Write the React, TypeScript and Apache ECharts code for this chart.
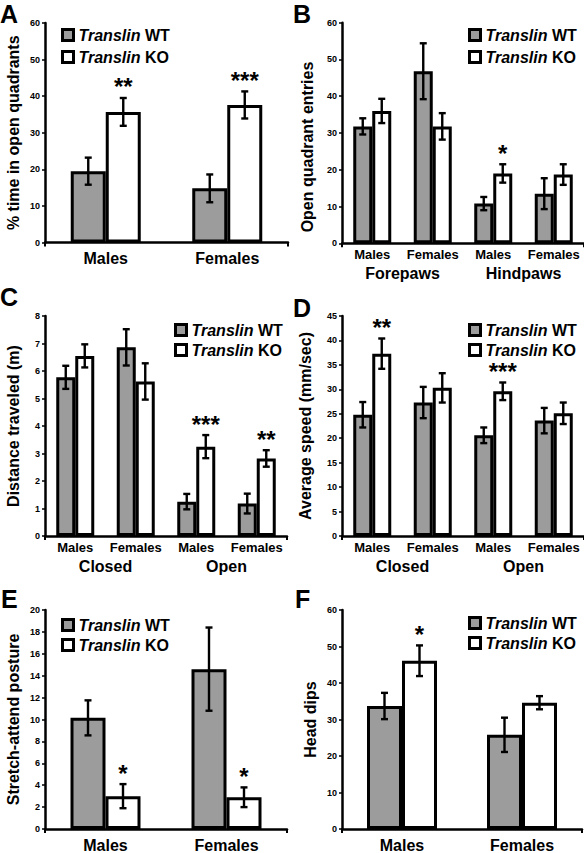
import React, { useEffect, useRef } from 'react';
import * as echarts from 'echarts';

const FONT = "'Liberation Sans', Arial, Helvetica, sans-serif";
const GRAY = '#9c9c9c';

// ---- categories ----
const catsTwo = ['Males', 'Females'];
const catsFour = ['Males', 'Females', 'Males', 'Females'];
const groupsB = ['Forepaws', 'Hindpaws'];
const groupsCD = ['Closed', 'Open'];

// ---- Panel A: % time in open quadrants ----
const wtA = [19.5, 14.8];
const wtAErr = [3.7, 3.8];
const koA = [35.7, 37.6];
const koAErr = [3.8, 3.7];
const starsA = ['**', '***'];

// ---- Panel B: open quadrant entries ----
const wtB = [31.8, 46.8, 10.8, 13.5];
const wtBErr = [2.2, 7.6, 1.8, 4.2];
const koB = [36.0, 31.8, 19.0, 18.7];
const koBErr = [3.3, 3.6, 2.5, 2.8];
const starsB = ['', '', '*', ''];

// ---- Panel C: distance traveled (m) ----
const wtC = [5.77, 6.86, 1.25, 1.18];
const wtCErr = [0.42, 0.66, 0.28, 0.36];
const koC = [6.55, 5.62, 3.25, 2.82];
const koCErr = [0.42, 0.66, 0.42, 0.3];
const starsC = ['', '', '***', '**'];

// ---- Panel D: average speed (mm/sec) ----
const wtD = [24.8, 27.3, 20.6, 23.6];
const wtDErr = [2.6, 3.2, 1.6, 2.6];
const koD = [37.3, 30.3, 29.6, 25.1];
const koDErr = [3.1, 3.0, 1.8, 2.2];
const starsD = ['**', '', '***', ''];

// ---- Panel E: stretch-attend posture ----
const wtE = [10.15, 14.6];
const wtEErr = [1.6, 3.8];
const koE = [3.0, 2.9];
const koEErr = [1.1, 0.9];
const starsE = ['*', '*'];

// ---- Panel F: head dips ----
const wtF = [33.7, 25.8];
const wtFErr = [3.6, 4.7];
const koF = [46.1, 34.6];
const koFErr = [4.2, 1.8];
const starsF = ['*', ''];

type Panel = {
  letter: string;
  letterPos: [number, number];
  cats: string[];
  groups?: string[];
  wt: number[];
  wtErr: number[];
  ko: number[];
  koErr: number[];
  stars: string[];
  yName: string;
  yMax: number;
  yInterval: number;
  nameGap: number;
  namePad?: number[];
  grid: { left: number; top: number; width: number; height: number };
  legend: { left: number; top: number; gap: number };
  barWidth: number;
};

const panels: Panel[] = [
  {
    letter: 'A', letterPos: [0, 13.5], cats: catsTwo,
    wt: wtA, wtErr: wtAErr, ko: koA, koErr: koAErr, stars: starsA,
    yName: '% time in open quadrants', yMax: 60, yInterval: 10, nameGap: 24,
    grid: { left: 45, top: 23, width: 243, height: 219.5 },
    legend: { left: 61, top: 27, gap: 6 }, barWidth: 35,
  },
  {
    letter: 'B', letterPos: [293, 13.5], cats: catsFour, groups: groupsB,
    wt: wtB, wtErr: wtBErr, ko: koB, koErr: koBErr, stars: starsB,
    yName: 'Open quadrant entries', yMax: 60, yInterval: 10, nameGap: 27, namePad: [0, 28, 0, 0],
    grid: { left: 342, top: 22.7, width: 242, height: 220.6 },
    legend: { left: 468, top: 27, gap: 6 }, barWidth: 19,
  },
  {
    letter: 'C', letterPos: [0, 297], cats: catsFour, groups: groupsCD,
    wt: wtC, wtErr: wtCErr, ko: koC, koErr: koCErr, stars: starsC,
    yName: 'Distance traveled (m)', yMax: 8, yInterval: 1, nameGap: 24,
    grid: { left: 45, top: 316, width: 242, height: 220 },
    legend: { left: 174, top: 322, gap: 4 }, barWidth: 19,
  },
  {
    letter: 'D', letterPos: [293, 308], cats: catsFour, groups: groupsCD,
    wt: wtD, wtErr: wtDErr, ko: koD, koErr: koDErr, stars: starsD,
    yName: 'Average speed (mm/sec)', yMax: 45, yInterval: 5, nameGap: 29,
    grid: { left: 342, top: 316, width: 242, height: 220 },
    legend: { left: 468, top: 322, gap: 4 }, barWidth: 19,
  },
  {
    letter: 'E', letterPos: [1, 599], cats: catsTwo,
    wt: wtE, wtErr: wtEErr, ko: koE, koErr: koEErr, stars: starsE,
    yName: 'Stretch-attend posture', yMax: 20, yInterval: 2, nameGap: 24,
    grid: { left: 45, top: 610, width: 242, height: 220.7 },
    legend: { left: 61, top: 617, gap: 4 }, barWidth: 35,
  },
  {
    letter: 'F', letterPos: [295, 599], cats: catsTwo,
    wt: wtF, wtErr: wtFErr, ko: koF, koErr: koFErr, stars: starsF,
    yName: 'Head dips', yMax: 60, yInterval: 10, nameGap: 24,
    grid: { left: 342, top: 610, width: 240, height: 220.7 },
    legend: { left: 468, top: 615, gap: 4 }, barWidth: 35,
  },
];

function buildOption() {
  const grid: any[] = [];
  const xAxis: any[] = [];
  const yAxis: any[] = [];
  const series: any[] = [];
  const legend: any[] = [];
  const graphic: any[] = [];

  panels.forEach((p, i) => {
    grid.push({ ...p.grid });
    const half = p.cats.length / 2;
    const xi = xAxis.length;
    xAxis.push({
      type: 'category',
      gridIndex: i,
      data: p.cats,
      axisLine: { lineStyle: { color: '#000', width: 2.5 } },
      axisTick: {
        show: true,
        length: 4,
        interval: (idx: number) => idx === half,
        lineStyle: { color: '#000', width: 2 },
      },
      axisLabel: {
        interval: 0,
        margin: p.groups ? 5 : 8,
        fontFamily: FONT,
        fontWeight: 'bold',
        fontSize: p.groups ? 13 : 16,
        color: '#000',
      },
    });
    if (p.groups) {
      xAxis.push({
        type: 'category',
        gridIndex: i,
        data: p.groups,
        position: 'bottom',
        axisLine: { show: false },
        axisTick: { show: false },
        axisLabel: {
          interval: 0,
          margin: 22,
          fontFamily: FONT,
          fontWeight: 'bold',
          fontSize: 16,
          color: '#000',
        },
      });
    }
    yAxis.push({
      type: 'value',
      gridIndex: i,
      min: 0,
      max: p.yMax,
      interval: p.yInterval,
      name: p.yName,
      nameLocation: 'middle',
      nameGap: p.nameGap,
      nameRotate: 90,
      nameTextStyle: {
        fontFamily: FONT,
        fontWeight: 'bold',
        fontSize: 16,
        color: '#000',
        padding: p.namePad || 0,
      },
      axisLine: { show: true, lineStyle: { color: '#000', width: 2.5 } },
      axisTick: { show: true, length: 3, lineStyle: { color: '#000', width: 1.5 } },
      axisLabel: { fontFamily: FONT, fontWeight: 'bold', fontSize: 9, color: '#000', margin: 5 },
      splitLine: { show: false },
    });

    const groupDefs = [
      { name: 'Translin WT', vals: p.wt, errs: p.wtErr, color: GRAY, sign: -1, stars: null as string[] | null },
      { name: 'Translin KO', vals: p.ko, errs: p.koErr, color: '#ffffff', sign: 1, stars: p.stars },
    ];
    groupDefs.forEach((g) => {
      series.push({
        type: 'bar',
        name: g.name,
        xAxisIndex: xi,
        yAxisIndex: i,
        data: g.vals,
        barWidth: p.barWidth,
        barGap: '0%',
        itemStyle: { color: g.color, borderColor: '#000', borderWidth: 3 },
        z: 2,
      });
    });
    groupDefs.forEach((g) => {
      const offset = (g.sign * p.barWidth) / 2;
      const stars = g.stars;
      series.push({
        type: 'custom',
        name: 'err',
        xAxisIndex: xi,
        yAxisIndex: i,
        silent: true,
        z: 5,
        encode: { x: 0, y: 1 },
        data: g.vals.map((v, k) => [k, v, g.errs[k]]),
        renderItem: (params: any, api: any) => {
          const c = api.value(0);
          const m = api.value(1);
          const e = api.value(2);
          const base = api.coord([c, m]);
          const top = api.coord([c, m + e]);
          const bot = api.coord([c, m - e]);
          const x = base[0] + offset;
          const cap = 3.5;
          const ls = { stroke: '#000', lineWidth: 2.4 };
          const children: any[] = [
            { type: 'line', shape: { x1: x, y1: top[1], x2: x, y2: bot[1] }, style: ls },
            { type: 'line', shape: { x1: x - cap, y1: top[1], x2: x + cap, y2: top[1] }, style: ls },
            { type: 'line', shape: { x1: x - cap, y1: bot[1], x2: x + cap, y2: bot[1] }, style: ls },
          ];
          const s = stars ? stars[params.dataIndex] : '';
          if (s) {
            children.push({
              type: 'text',
              style: {
                text: s,
                x,
                y: top[1] - 11,
                align: 'center',
                verticalAlign: 'middle',
                fontFamily: FONT,
                fontWeight: 'bold',
                fontSize: 24,
                fill: '#000',
              },
            });
          }
          return { type: 'group', children };
        },
      });
    });

    legend.push({
      left: p.legend.left,
      top: p.legend.top,
      orient: 'vertical',
      itemGap: p.legend.gap,
      itemWidth: 11,
      itemHeight: 11,
      itemTextGap: 5,
      padding: 0,
      selectedMode: false,
      data: [
        { name: 'Translin WT', icon: 'rect', itemStyle: { color: GRAY, borderColor: '#000', borderWidth: 3 } },
        { name: 'Translin KO', icon: 'rect', itemStyle: { color: '#ffffff', borderColor: '#000', borderWidth: 3 } },
      ],
      formatter: (name: string) => `{i|Translin} {b|${name.split(' ')[1]}}`,
      textStyle: {
        fontFamily: FONT,
        fontWeight: 'bold',
        fontSize: 16,
        color: '#000',
        rich: {
          i: { fontFamily: FONT, fontStyle: 'italic', fontWeight: 'bold', fontSize: 16, lineHeight: 16, color: '#000' },
          b: { fontFamily: FONT, fontWeight: 'bold', fontSize: 16, lineHeight: 16, color: '#000' },
        },
      },
    });

    graphic.push({
      type: 'text',
      x: p.letterPos[0],
      y: p.letterPos[1],
      style: {
        text: p.letter,
        fontFamily: FONT,
        fontWeight: 'bold',
        fontSize: 25,
        fill: '#000',
        align: 'left',
        verticalAlign: 'middle',
      },
    });
  });

  return {
    animation: false,
    backgroundColor: '#ffffff',
    grid,
    xAxis,
    yAxis,
    series,
    legend,
    graphic,
  };
}

export default function App() {
  const ref = useRef<HTMLDivElement>(null);
  useEffect(() => {
    if (!ref.current) return;
    const chart = echarts.init(ref.current, undefined, { renderer: 'svg' });
    chart.setOption(buildOption() as any);
    return () => chart.dispose();
  }, []);
  return (
    <div
      ref={ref}
      style={{ position: 'fixed', left: 0, top: 0, width: 584, height: 853, background: '#fff' }}
    />
  );
}
